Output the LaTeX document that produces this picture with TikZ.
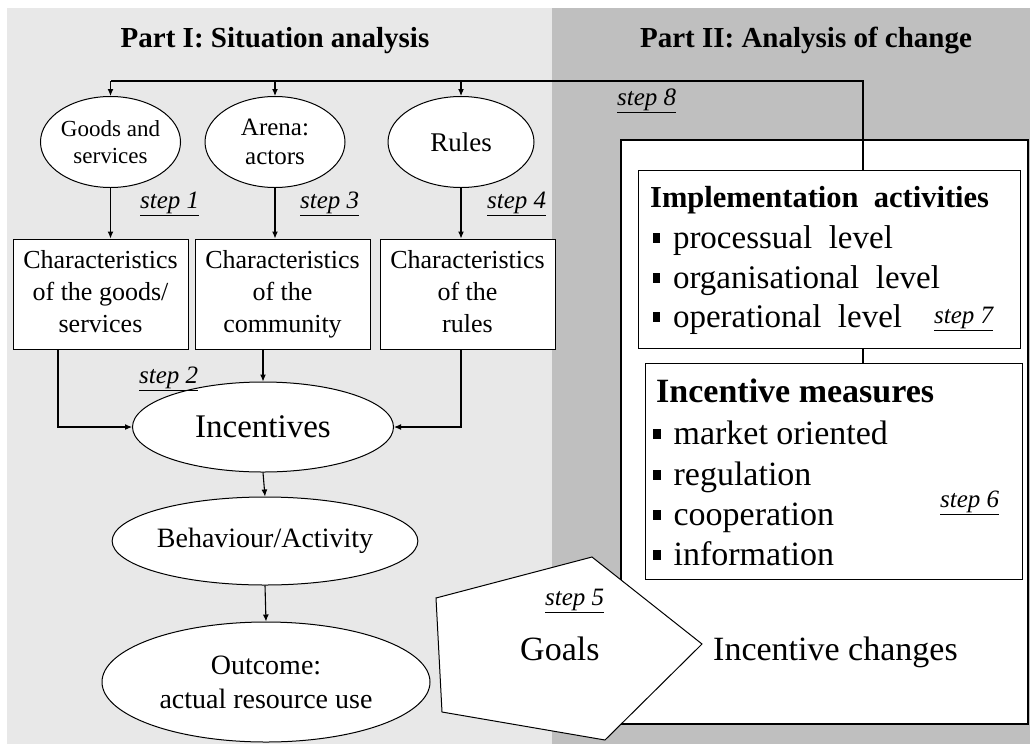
\documentclass[tikz,border=0pt]{standalone}
\usepackage{fontspec}
\setmainfont{Liberation Serif}
\usetikzlibrary{shapes.geometric,arrows.meta}
\newcommand\fsz[1]{\fontsize{#1}{#1}\selectfont}
\newcommand\sqb{\rule[0.14em]{0.22em}{0.31em}\hspace{0.38em}}
\begin{document}
\begin{tikzpicture}[x=1pt,y=-1pt,
  oval/.style={ellipse, draw, fill=white, line width=1pt, inner sep=0pt, align=center},
  cbox/.style={rectangle, draw, fill=white, line width=1pt, inner sep=0pt, align=center,
               minimum width=175pt, minimum height=110pt, font=\fontsize{26}{32}\selectfont},
  conn/.style={line width=1.1pt},
  arr/.style={conn, -{Latex[length=7pt,width=6pt]}},
  steplbl/.style={font=\fsz{25}\itshape, inner sep=0pt, anchor=base west},
  item/.style={font=\fsz{33}, inner sep=0pt, anchor=base west},
  hdr/.style={font=\fsz{29}\bfseries, inner sep=0pt, anchor=base}
]
\useasboundingbox (0,0) rectangle (1030,745);
% background panels
\fill[white] (0,0) rectangle (1030,745);
\fill[gray!18] (7,8) rectangle (552,744);
\fill[gray!50] (552,8) rectangle (1030,744);

% panel headings
\node[hdr] (h1) at (275,47) {Part I: Situation analysis};
\node[hdr] (h2) at (806,47) {Part II: Analysis of change};

% ---------- Part I ----------
\node[oval, minimum width=139pt, minimum height=91pt, font=\fontsize{23}{27}\selectfont] (goods) at (110.5,142) {Goods and\\services};
\node[oval, minimum width=140pt, minimum height=91pt, font=\fontsize{25}{29}\selectfont] (arena) at (275,142) {Arena:\\actors};
\node[oval, minimum width=146pt, minimum height=91pt, font=\fsz{27}] (rules) at (461,142) {Rules};

\node[cbox] (box1) at (100.5,294) {Characteristics\\of the goods/\\services\vphantom{y}};
\node[cbox] (box2) at (282.5,294) {Characteristics\\of the\vphantom{/}\\community};
\node[cbox] (box3) at (467.5,294) {Characteristics\\of the\vphantom{/}\\rules\vphantom{y}};

\node[oval, minimum width=261pt, minimum height=90pt, font=\fsz{33}] (inc) at (263,427) {Incentives};
\node[oval, minimum width=262pt, minimum height=88pt, font=\fsz{28}] (beh) at (265,541) {Behaviour/Activity};
\node[oval, minimum width=328pt, minimum height=120pt, font=\fontsize{28}{34}\selectfont] (out) at (266,682) {Outcome:\\actual resource use};

% step labels
\node[steplbl] (s1) at (140,208) {\underline{step 1}};
\node[steplbl] (s3) at (300,208) {\underline{step 3}};
\node[steplbl] (s4) at (487,208) {\underline{step 4}};
\node[steplbl] (s2) at (139,383) {\underline{step 2}};

% connectors of Part I
\coordinate (b1x) at (58,0);
\draw[arr] (goods.south) -- (goods.south |- box1.north);
\draw[arr] (arena.south) -- (arena.south |- box2.north);
\draw[arr] (rules.south) -- (rules.south |- box3.north);
\draw[arr] (box1.south -| b1x) |- (inc.west);
\draw[arr] (box2.south -| inc.north) -- (inc.north);
\draw[arr] (box3.south -| rules.south) |- (inc.east);
\draw[arr] (inc.south) -- (beh.north);
\draw[arr] (beh.south) -- (out.north);

% ---------- Part II ----------
\node[draw, fill=white, line width=1.4pt, minimum width=407pt, minimum height=584pt, inner sep=0pt] (frame) at (824.5,432) {};
\node[draw, fill=white, line width=1pt, minimum width=382pt, minimum height=178pt, inner sep=0pt] (impl) at (829,259) {};
\node[draw, fill=white, line width=1pt, minimum width=377pt, minimum height=216pt, inner sep=0pt] (meas) at (833.5,471) {};

\node[item, font=\fsz{30.5}\bfseries] (implt) at (650,207) {Implementation\ \ activities};
\node[item] (i1) at (653,248) {\sqb processual\ \ level};
\node[item] (i2) at (653,288) {\sqb organisational\ \ level};
\node[item] (i3) at (653,327) {\sqb operational\ \ level};
\node[steplbl] (s7) at (934,323) {\underline{step 7}};

\node[item, font=\fsz{34}\bfseries] (meast) at (656,402) {Incentive measures};
\node[item, font=\fsz{34}] (m1) at (653,444) {\sqb market oriented};
\node[item, font=\fsz{34}] (m2) at (653,485) {\sqb regulation};
\node[item, font=\fsz{34}] (m3) at (653,525) {\sqb cooperation};
\node[item, font=\fsz{34}] (m4) at (653,565) {\sqb information};
\node[steplbl] (s6) at (940,507) {\underline{step 6}};

% goals pentagon
\draw[fill=white, line width=1pt] (436,598) -- (592,557) -- (702,644) -- (605,740) -- (442,712) -- cycle;
\node[item, font=\fsz{34}] (goals) at (520,660) {Goals};
\node[steplbl] (s5) at (545,605) {\underline{step 5}};
\node[item, font=\fsz{34}] (chg) at (713,660) {Incentive changes};

% feedback line (step 8)
\coordinate (fb) at (863,81);
\draw[line width=1.6pt] (impl.north -| fb) -- (fb) -- (goods.north |- fb);
\draw[arr] (goods.north |- fb) -- (goods.north);
\draw[arr] (arena.north |- fb) -- (arena.north);
\draw[arr] (rules.north |- fb) -- (rules.north);
\draw[conn] (impl.south -| fb) -- (meas.north -| fb);
\node[steplbl] (s8) at (617,105) {\underline{step 8}};
\end{tikzpicture}
\end{document}
